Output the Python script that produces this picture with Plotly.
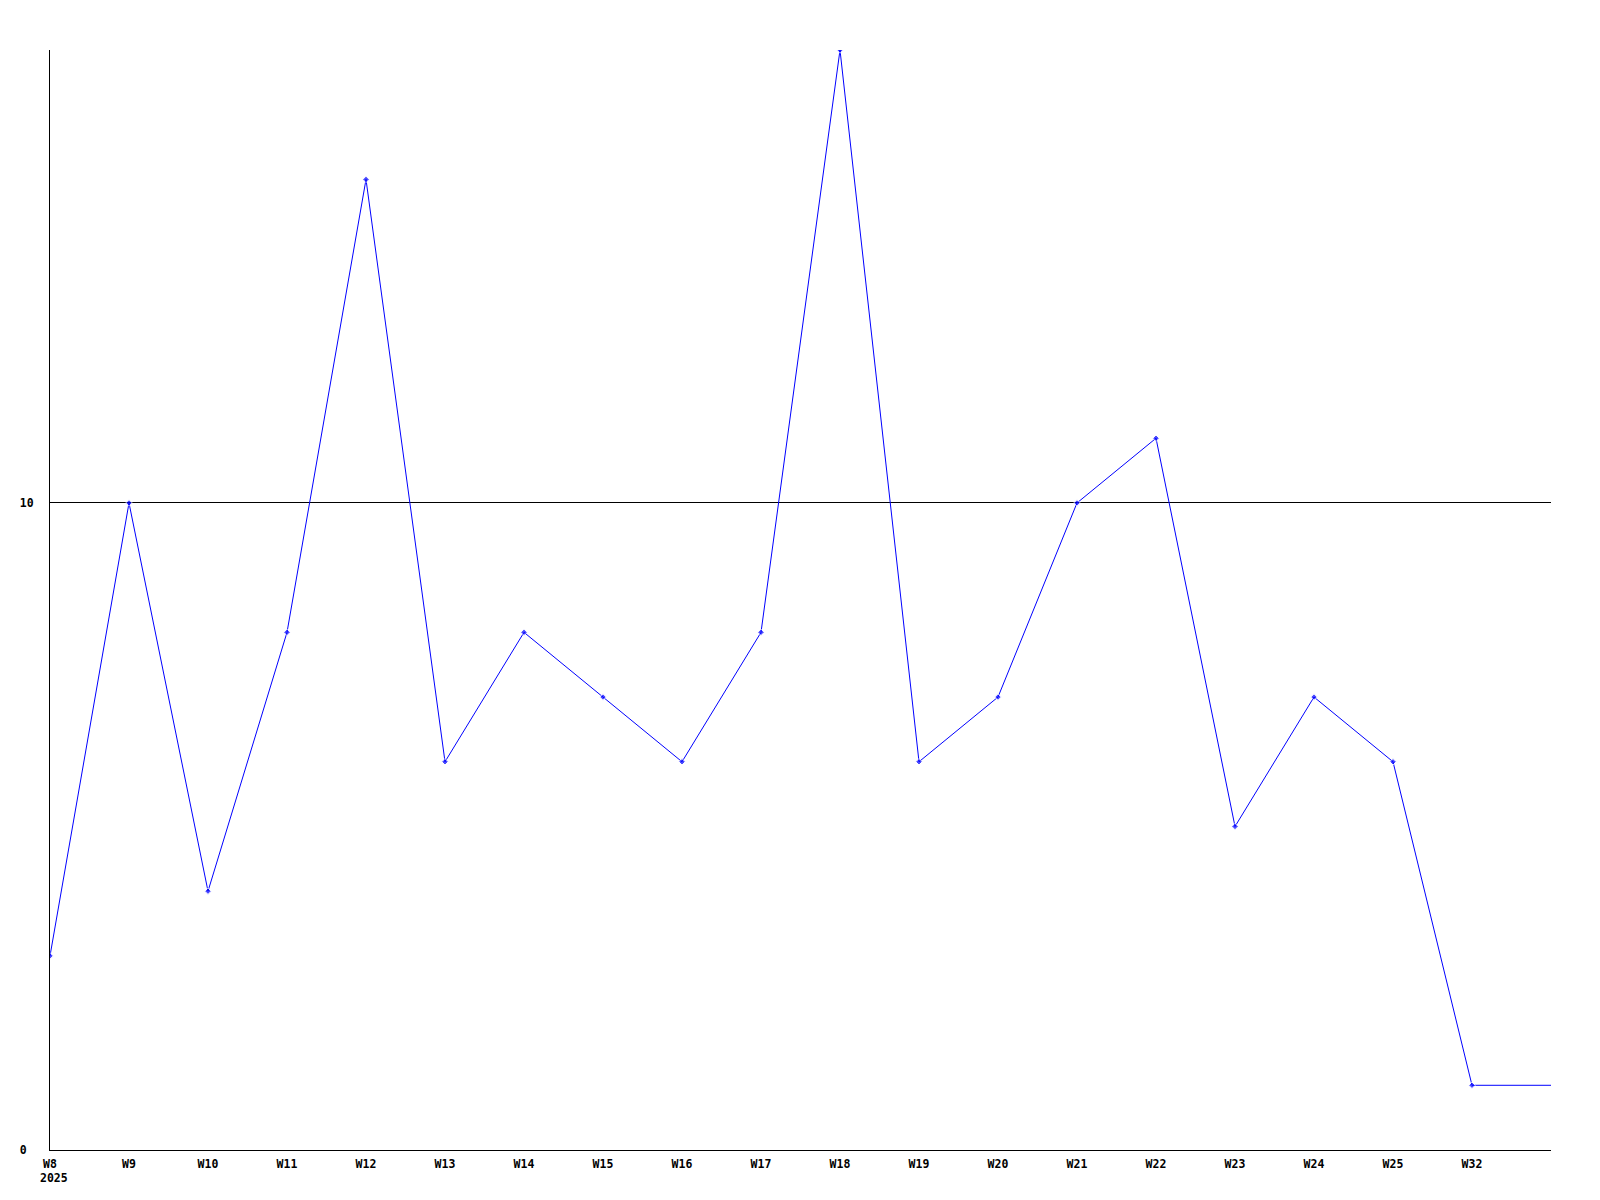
import plotly.graph_objects as go

weeks = ["W8", "W9", "W10", "W11", "W12", "W13", "W14", "W15", "W16", "W17",
         "W18", "W19", "W20", "W21", "W22", "W23", "W24", "W25", "W32"]
values = [3, 10, 4, 8, 15, 6, 8, 7, 6, 8, 17, 6, 7, 10, 11, 5, 7, 6, 1]
year_label = "2025"
y_ticks = [0, 10]

# the line continues flat to the right edge after the last week
xs = list(range(len(weeks))) + [len(weeks)]
ys = values + [values[-1]]
sizes = [5] * len(weeks) + [0]

font_family = "DejaVu Sans Mono, Liberation Mono, monospace"

fig = go.Figure()
fig.add_trace(go.Scatter(
    x=xs, y=ys, mode="lines+markers",
    line=dict(color="#0000ff", width=1),
    marker=dict(color="#0000ff", size=sizes, symbol="diamond"),
    showlegend=False, hoverinfo="skip",
))

fig.add_annotation(
    x=0, y=0, xref="x", yref="paper", text="<b>" + year_label + "</b>",
    showarrow=False, xanchor="left", yanchor="top", xshift=-12, yshift=-19,
    font=dict(family=font_family, size=11.5, color="black"),
)

fig.update_layout(
    width=1600, height=1200,
    margin=dict(l=42, r=57, t=42, b=58),
    paper_bgcolor="white", plot_bgcolor="white",
    font=dict(family=font_family, size=11.5, color="black"),
)
fig.update_xaxes(
    range=[0, len(weeks)], tickmode="array",
    tickvals=list(range(len(weeks))), ticktext=["<b>" + w + "</b>" for w in weeks],
    showgrid=False, zeroline=False, showline=True, linecolor="black", linewidth=1,
    ticks="", ticklabelstandoff=3, automargin=False,
)
fig.update_yaxes(
    range=[0, 17], tickmode="array", tickvals=y_ticks,
    ticktext=["<b>" + str(v).ljust(2, "\u00a0") + "</b>" for v in y_ticks],
    showgrid=True, gridcolor="black", gridwidth=1,
    zeroline=False, showline=True, linecolor="black", linewidth=1,
    ticks="", ticklabelstandoff=13, automargin=False,
)

fig.write_html("out.html")
